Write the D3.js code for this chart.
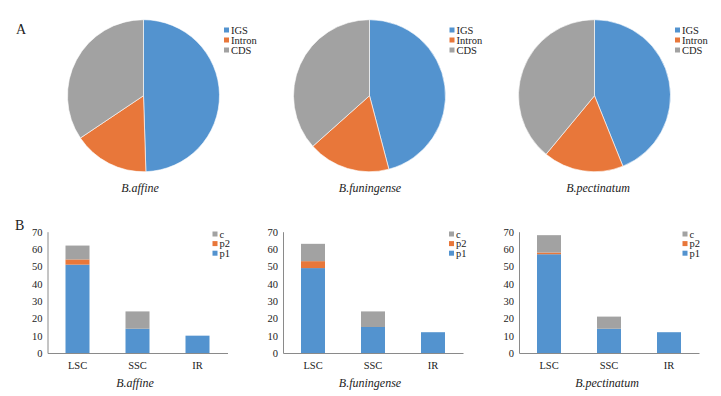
<!DOCTYPE html>
<html>
<head>
<meta charset="utf-8">
<script src="https://cdn.jsdelivr.net/npm/d3@7"></script>
<style>
  html, body { margin: 0; padding: 0; background: #fff; }
  svg { display: block; }
  svg text { font-family: "Liberation Serif", "DejaVu Serif", serif; fill: #222; }
  .axis path { stroke: #8a8a8a; }
  .axis line { display: none; }
  .axis text { font-size: 10.5px; }
  .lg text { font-size: 10.5px; }
  .species { font-size: 12px; font-style: italic; text-anchor: middle; }
</style>
</head>
<body>
<div id="chart"></div>
<script>
// species / panels
const species = ['B.affine', 'B.funingense', 'B.pectinatum'];

// panel A: region share of the genome (%)
const pieKeys = ['IGS', 'Intron', 'CDS'];
const igs = [49.5, 45.9, 43.9];
const intron = [16.1, 17.5, 17.1];
const cds = [34.4, 36.6, 39.0];

// panel B: counts per region
const regions = ['LSC', 'SSC', 'IR'];
const barKeys = ['p1', 'p2', 'c'];
const p1 = [[51, 14, 10], [49, 15, 12], [57, 14, 12]];
const p2 = [[3, 0, 0], [4, 0, 0], [1, 0, 0]];
const cc = [[8, 10, 0], [10, 9, 0], [10, 7, 0]];
const yTicks = [0, 10, 20, 30, 40, 50, 60, 70];

const colors = { IGS: '#5393cf', Intron: '#e8773a', CDS: '#a2a2a2', p1: '#5393cf', p2: '#e8773a', c: '#a2a2a2' };
const serif = '"Liberation Serif", "DejaVu Serif", serif';

const W = 721, H = 396;
const svg = d3.select('#chart').append('svg').attr('width', W).attr('height', H);

// layout
const pieCx = [143.5, 369.5, 594.5];
const pieCy = 95.7;
const pieR = 76;
const pieLegX = [224, 449.5, 675];
const pieLabelX = [140, 370, 598];

const barX0 = [47.5, 283, 519];
const barW = 180;
const barY0 = 353, barYTop = 231.7;
const barLegX = [212.5, 449, 682.5];
const barLabelX = [135, 370, 607];

svg.append('text').attr('x', 16).attr('y', 34).attr('font-size', 14).attr('font-family', serif).text('A');
svg.append('text').attr('x', 15).attr('y', 230).attr('font-size', 14).attr('font-family', serif).text('B');

const pie = d3.pie().sort(null).value((d) => d.v);
const arc = d3.arc().innerRadius(0).outerRadius(pieR);

species.forEach((sp, i) => {
  // ---- pie ----
  const pd = [
    { k: 'IGS', v: igs[i] },
    { k: 'Intron', v: intron[i] },
    { k: 'CDS', v: cds[i] }
  ];
  const g = svg.append('g').attr('transform', `translate(${pieCx[i]}, ${pieCy})`);
  g.selectAll('path')
    .data(pie(pd))
    .join('path')
    .attr('d', arc)
    .attr('fill', (d) => colors[d.data.k])
    .attr('stroke', '#fff')
    .attr('stroke-width', 0.6);

  const lg = svg.append('g').attr('class', 'lg').attr('transform', `translate(${pieLegX[i]}, 30)`);
  pieKeys.forEach((k, j) => {
    lg.append('rect').attr('x', 0).attr('y', j * 10 - 2.5).attr('width', 5).attr('height', 5).attr('fill', colors[k]);
    lg.append('text').attr('x', 7).attr('y', j * 10 + 3.5).attr('font-family', serif).text(k);
  });

  svg.append('text').attr('class', 'species').attr('x', pieLabelX[i]).attr('y', 192)
    .attr('font-family', serif).text(sp);

  // ---- stacked bars ----
  const rows = regions.map((r, j) => ({ region: r, p1: p1[i][j], p2: p2[i][j], c: cc[i][j] }));
  const stacked = d3.stack().keys(barKeys)(rows);

  const x = d3.scaleBand().domain(regions).range([barX0[i], barX0[i] + barW]).paddingInner(0.6).paddingOuter(0.3);
  const y = d3.scaleLinear().domain([0, 70]).range([barY0, barYTop]);

  svg.append('g')
    .selectAll('g.layer')
    .data(stacked)
    .join('g')
    .attr('class', 'layer')
    .attr('fill', (d) => colors[d.key])
    .selectAll('rect')
    .data((d) => d)
    .join('rect')
    .attr('x', (d) => x(d.data.region))
    .attr('width', x.bandwidth())
    .attr('y', (d) => y(d[1]))
    .attr('height', (d) => y(d[0]) - y(d[1]));

  svg.append('g')
    .attr('class', 'axis')
    .attr('transform', `translate(${barX0[i]}, 0)`)
    .call(d3.axisLeft(y).tickValues(yTicks).tickSize(0).tickSizeOuter(0).tickPadding(5))
    .attr('font-family', serif);

  svg.append('g')
    .attr('class', 'axis')
    .attr('transform', `translate(0, ${barY0})`)
    .call(d3.axisBottom(x).tickSize(0).tickSizeOuter(0).tickPadding(9))
    .attr('font-family', serif);

  const bl = svg.append('g').attr('class', 'lg').attr('transform', `translate(${barLegX[i]}, 234)`);
  barKeys.slice().reverse().forEach((k, j) => {
    bl.append('rect').attr('x', 0).attr('y', j * 9.6 - 2.5).attr('width', 5).attr('height', 5).attr('fill', colors[k]);
    bl.append('text').attr('x', 7).attr('y', j * 9.6 + 3.5).attr('font-family', serif).text(k);
  });

  svg.append('text').attr('class', 'species').attr('x', barLabelX[i]).attr('y', 387)
    .attr('font-family', serif).text(sp);
});
</script>
</body>
</html>
